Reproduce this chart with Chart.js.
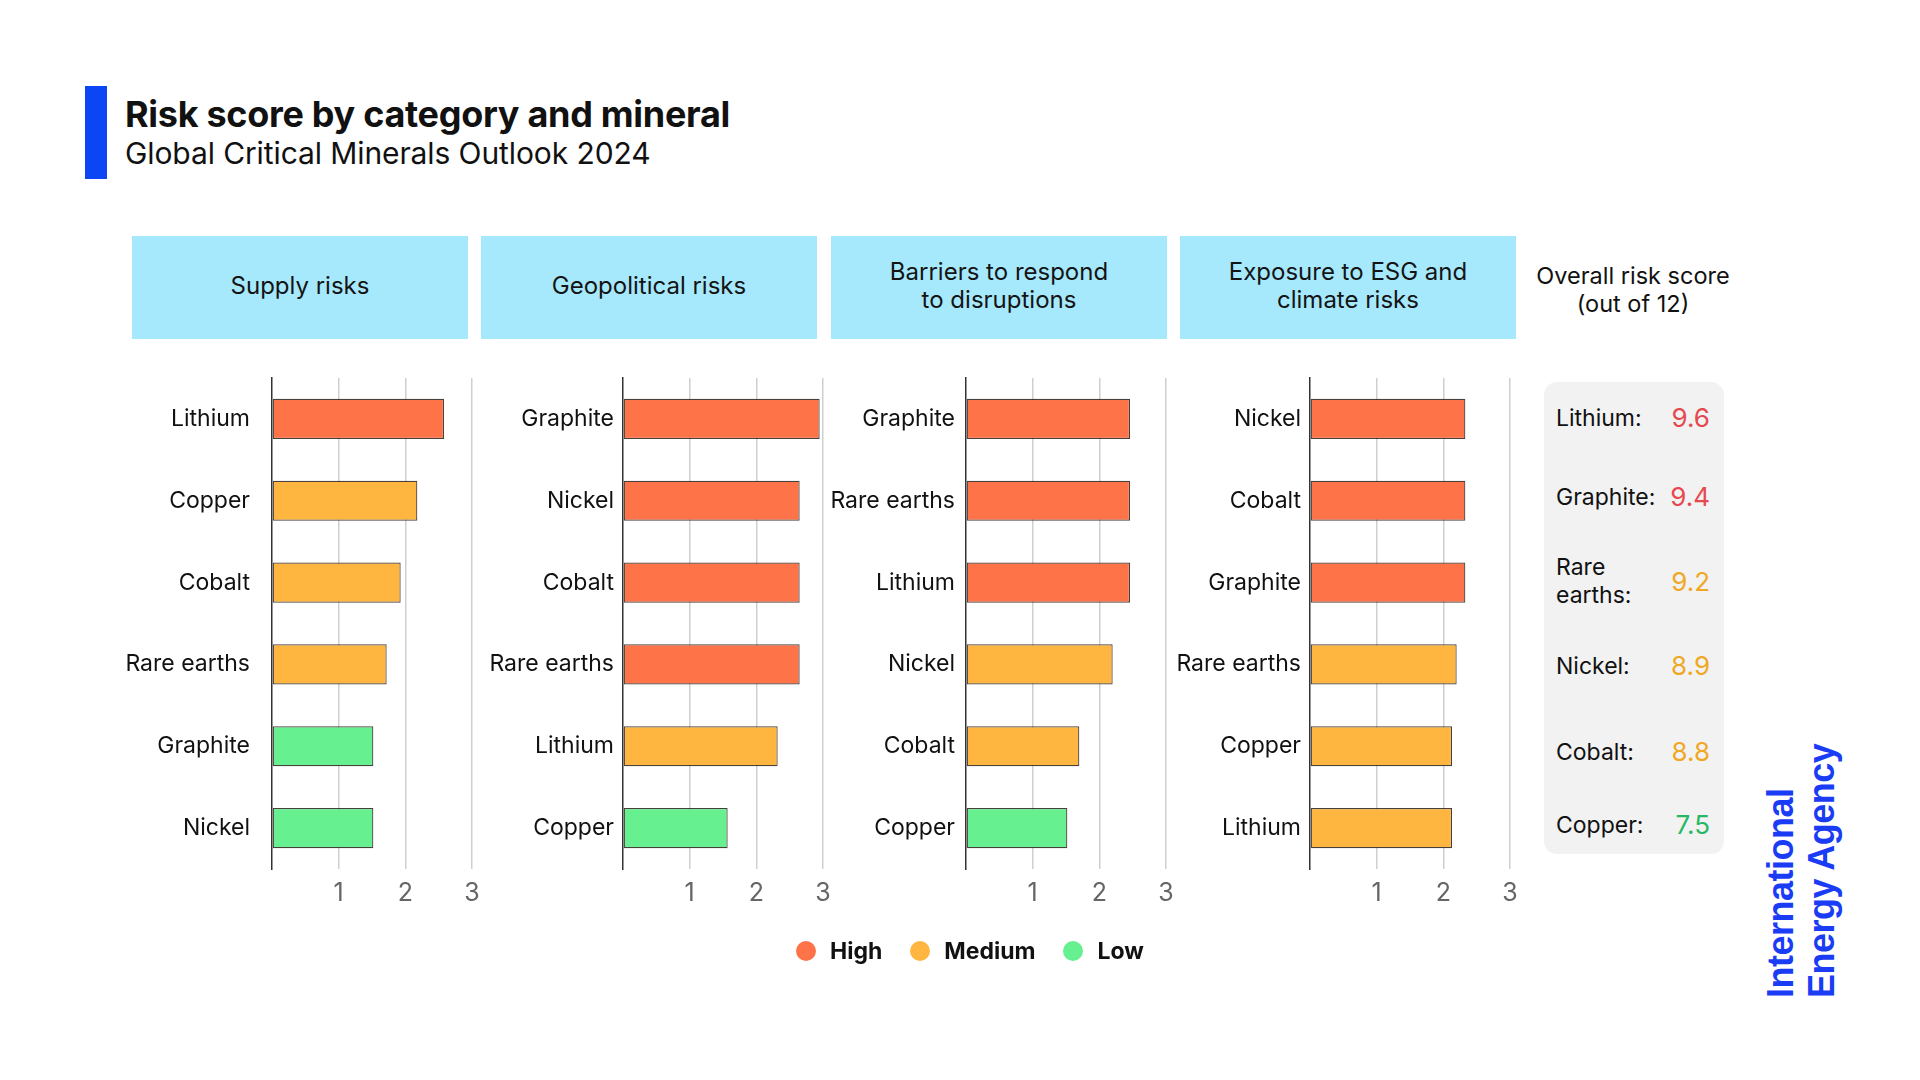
<!DOCTYPE html>
<html>
<head>
<meta charset="utf-8">
<script src="https://cdn.jsdelivr.net/npm/chart.js@4.4.1/dist/chart.umd.min.js"></script>
<style>
  html, body { margin: 0; padding: 0; background: #fff; }
  body { width: 1920px; height: 1080px; position: relative; overflow: hidden; font-family: Inter, "Noto Sans", sans-serif; color: #111; }
  .accent { position: absolute; left: 85px; top: 86px; width: 22px; height: 93px; background: #0a46f5; }
  .title { position: absolute; left: 125px; top: 94px; font-size: 36px; font-weight: 700; line-height: 40px; letter-spacing: -0.3px; }
  .subtitle { position: absolute; left: 125px; top: 136px; font-size: 30px; font-weight: 400; line-height: 34px; letter-spacing: -0.1px; }
  .head { position: absolute; top: 236px; height: 103px; background: #a6e9fd; display: flex; align-items: center; justify-content: center; text-align: center; font-size: 24px; line-height: 28px; color: #141414; padding-bottom: 3px; box-sizing: border-box; }
  .overall-head { position: absolute; left: 1520px; top: 262px; width: 226px; text-align: center; font-size: 23.5px; line-height: 28px; }
  .panel { position: absolute; left: 1544px; top: 382px; width: 180px; height: 472px; background: #f2f2f2; border-radius: 13px; }
  .row { position: absolute; left: 12px; right: 14px; display: flex; align-items: center; justify-content: space-between; transform: translateY(-50%); }
  .row .name { font-size: 23px; line-height: 28px; white-space: pre; }
  .row .score { font-size: 26px; }
  canvas { position: absolute; }
  .legend { position: absolute; left: 796px; top: 937px; display: flex; align-items: center; font-size: 23px; font-weight: 700; }
  .legend .item { display: flex; align-items: center; margin-right: 28px; }
  .legend .dot { width: 20px; height: 20px; border-radius: 50%; margin-right: 14px; }
  .logo { position: absolute; left: 1760px; top: 998px; width: 300px; transform: rotate(-90deg); transform-origin: left top; font-family: "Liberation Sans", Arial, sans-serif; font-weight: 700; font-size: 36px; line-height: 41px; color: #1a3cf5; white-space: pre; letter-spacing: -0.5px; }
</style>
</head>
<body>
<div class="accent"></div>
<div class="title">Risk score by category and mineral</div>
<div class="subtitle">Global Critical Minerals Outlook 2024</div>
<div id="heads"></div>
<div class="overall-head">Overall risk score<br>(out of 12)</div>
<div class="panel" id="overall"></div>
<div id="charts"></div>
<div class="legend" id="legend"></div>
<div class="logo">International
Energy Agency</div>

<script>
// Category headers
const categories = ['Supply risks', 'Geopolitical risks', 'Barriers to respond\nto disruptions', 'Exposure to ESG and\nclimate risks'];

// Minerals per category, top to bottom
const supplyMinerals = ['Lithium', 'Copper', 'Cobalt', 'Rare earths', 'Graphite', 'Nickel'];
const supplyScores = [2.58, 2.18, 1.93, 1.72, 1.52, 1.52];
const supplyLevels = ['high', 'medium', 'medium', 'medium', 'low', 'low'];

const geoMinerals = ['Graphite', 'Nickel', 'Cobalt', 'Rare earths', 'Lithium', 'Copper'];
const geoScores = [2.95, 2.65, 2.65, 2.65, 2.32, 1.57];
const geoLevels = ['high', 'high', 'high', 'high', 'medium', 'low'];

const barrierMinerals = ['Graphite', 'Rare earths', 'Lithium', 'Nickel', 'Cobalt', 'Copper'];
const barrierScores = [2.46, 2.46, 2.46, 2.2, 1.7, 1.52];
const barrierLevels = ['high', 'high', 'high', 'medium', 'medium', 'low'];

const esgMinerals = ['Nickel', 'Cobalt', 'Graphite', 'Rare earths', 'Copper', 'Lithium'];
const esgScores = [2.33, 2.33, 2.33, 2.2, 2.13, 2.13];
const esgLevels = ['high', 'high', 'high', 'medium', 'medium', 'medium'];

const xTicks = [1, 2, 3];

// Overall risk score (out of 12)
const overallMinerals = ['Lithium:', 'Graphite:', 'Rare\nearths:', 'Nickel:', 'Cobalt:', 'Copper:'];
const overallScores = [9.6, 9.4, 9.2, 8.9, 8.8, 7.5];
const overallLevels = ['high', 'high', 'medium', 'medium', 'medium', 'low'];

const legendLevels = ['high', 'medium', 'low'];
const legendLabels = ['High', 'Medium', 'Low'];

// Styling
const BAR_COLORS = { high: '#ff7349', medium: '#ffb640', low: '#66f090' };
const SCORE_COLORS = { high: '#e5494f', medium: '#f0a824', low: '#27b866' };

const HEAD_BOXES = [[132, 336], [481, 336], [831, 336], [1180, 336]];
const AXIS_X = [272, 623, 966, 1310];
const LABEL_PAD = [14, 1, 3, 1];
const LABEL_W = 170;
const PLOT_W = 200;
const ROW_Y = [35, 114, 199, 283, 369, 442];

// Headers
document.getElementById('heads').innerHTML = categories.map((c, i) =>
  `<div class="head" style="left:${HEAD_BOXES[i][0]}px;width:${HEAD_BOXES[i][1]}px">${c.replace('\n', '<br>')}</div>`
).join('');

// Overall score panel
document.getElementById('overall').innerHTML = overallMinerals.map((m, i) => `
  <div class="row" style="top:${ROW_Y[i]}px">
    <span class="name">${m}</span>
    <span class="score" style="color:${SCORE_COLORS[overallLevels[i]]}">${overallScores[i]}</span>
  </div>`).join('');

// Legend
document.getElementById('legend').innerHTML = legendLevels.map((l, i) => `
  <div class="item"><span class="dot" style="background:${BAR_COLORS[l]}"></span>${legendLabels[i]}</div>`
).join('');

// Charts
const panels = [
  [supplyMinerals, supplyScores, supplyLevels],
  [geoMinerals, geoScores, geoLevels],
  [barrierMinerals, barrierScores, barrierLevels],
  [esgMinerals, esgScores, esgLevels],
];

panels.forEach(([minerals, scores, levels], i) => {
  const canvas = document.createElement('canvas');
  canvas.width = LABEL_W + PLOT_W + 24;
  canvas.height = 544;
  canvas.style.left = (AXIS_X[i] - LABEL_W) + 'px';
  canvas.style.top = '370px';
  document.getElementById('charts').appendChild(canvas);

  new Chart(canvas.getContext('2d'), {
    type: 'bar',
    data: {
      labels: minerals,
      datasets: [{
        data: scores,
        backgroundColor: levels.map(l => BAR_COLORS[l]),
        borderColor: 'rgba(40, 30, 25, 0.85)',
        borderWidth: 1.2,
        borderSkipped: false,
        barPercentage: 0.49,
        categoryPercentage: 1,
      }],
    },
    options: {
      indexAxis: 'y',
      responsive: false,
      animation: false,
      devicePixelRatio: 1,
      layout: { padding: { top: 8, right: 24, left: 0, bottom: 0 } },
      plugins: { legend: { display: false }, tooltip: { enabled: false } },
      scales: {
        x: {
          min: 0,
          max: 3,
          afterBuildTicks: s => { s.ticks = [0, ...xTicks].map(v => ({ value: v })); },
          afterFit: s => { s.height = 45; s.paddingLeft = 0; s.paddingRight = 0; },
          ticks: {
            callback: v => (v === 0 ? '' : v),
            color: '#666',
            font: { family: 'Inter', size: 25 },
            padding: 9,
          },
          grid: {
            color: ctx => (ctx.tick && ctx.tick.value === 0 ? 'rgba(0,0,0,0)' : '#cfcfcf'),
            lineWidth: 1.5,
            drawTicks: false,
          },
          border: { display: false },
        },
        y: {
          afterFit: s => { s.width = LABEL_W; s.paddingTop = 0; s.paddingBottom = 0; },
          ticks: {
            color: '#111',
            font: { family: 'Inter', size: 23 },
            padding: LABEL_PAD[i],
          },
          grid: { display: false },
          border: { color: '#333', width: 1.5 },
        },
      },
    },
  });
});
</script>
</body>
</html>
